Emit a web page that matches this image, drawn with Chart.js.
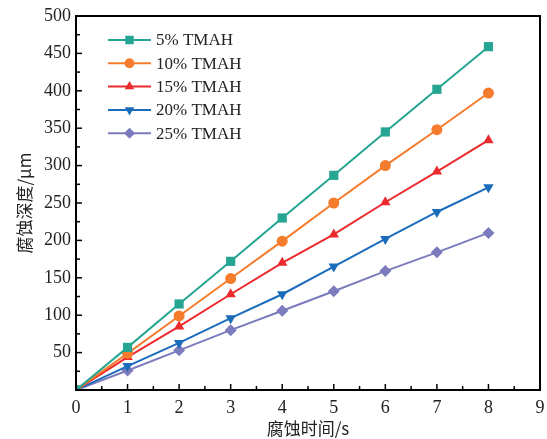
<!DOCTYPE html>
<html>
<head>
<meta charset="utf-8">
<script src="https://cdn.jsdelivr.net/npm/chart.js@4"></script>
<style>
  body { margin: 0; background: #fff; }
  #wrap { width: 547px; height: 439px; position: relative; }
</style>
</head>
<body>
<div id="wrap"><canvas id="etchChart"></canvas></div>
<script>
const times = [0, 1, 2, 3, 4, 5, 6, 7, 8];
const seriesNames = ['5% TMAH', '10% TMAH', '15% TMAH', '20% TMAH', '25% TMAH'];
const depth5 = [0, 57, 115, 172, 230, 287, 345, 402, 459];
const depth10 = [0, 49, 99, 149, 199, 250, 300, 348, 397];
const depth15 = [0, 44, 85, 128, 170, 208, 251, 292, 334];
const depth20 = [0, 32, 63, 96, 128, 165, 202, 238, 271];
const depth25 = [0, 26, 53, 80, 106, 132, 159, 184, 210];
const xTicks = [0, 1, 2, 3, 4, 5, 6, 7, 8, 9];
const yTicks = [50, 100, 150, 200, 250, 300, 350, 400, 450, 500];

const colors = ['#26a592', '#f47c2c', '#ec2a2e', '#1c6cbc', '#7b7bbd'];
const markers = ['rect', 'circle', 'triangle', 'triangle', 'rectRot'];
const rotations = [0, 0, 0, 180, 0];
const radii = [6.5, 5.5, 6, 6, 6];
const allDepths = [depth5, depth10, depth15, depth20, depth25];

const serif = '"Liberation Serif", "DejaVu Serif", serif';
const cjk = '"Noto Sans CJK SC", sans-serif';

const datasets = seriesNames.map((name, i) => ({
    label: name,
    data: times.map((t, j) => ({ x: t, y: allDepths[i][j] })),
    borderColor: colors[i],
    backgroundColor: colors[i],
    borderWidth: 2,
    pointStyle: markers[i],
    pointRotation: rotations[i],
    pointRadius: radii[i],
    pointBorderWidth: 0,
    tension: 0
}));

// box around plot + inward ticks
const framePlugin = {
    id: 'frame',
    afterDraw(chart) {
        const { ctx, chartArea: a, scales } = chart;
        ctx.save();
        ctx.strokeStyle = '#000';
        ctx.lineWidth = 2;
        ctx.strokeRect(a.left, a.top, a.right - a.left, a.bottom - a.top);
        ctx.lineWidth = 1.5;
        const xs = scales.x, ys = scales.y;
        for (let v = 0.5; v < 9; v += 0.5) {
            const px = xs.getPixelForValue(v);
            const len = (v % 1 === 0) ? 6 : 4;
            ctx.beginPath();
            ctx.moveTo(px, a.bottom);
            ctx.lineTo(px, a.bottom - len);
            ctx.stroke();
        }
        for (let v = 25; v < 500; v += 25) {
            const py = ys.getPixelForValue(v);
            const len = (v % 50 === 0) ? 6 : 4;
            ctx.beginPath();
            ctx.moveTo(a.left, py);
            ctx.lineTo(a.left + len, py);
            ctx.stroke();
        }
        ctx.restore();
    }
};

// legend drawn inside the plot area
const innerLegend = {
    id: 'innerLegend',
    afterDatasetsDraw(chart) {
        const { ctx } = chart;
        ctx.save();
        ctx.font = '17px ' + serif;
        ctx.textBaseline = 'middle';
        chart.data.datasets.forEach((ds, i) => {
            const y = 40 + i * 23.3;
            ctx.strokeStyle = ds.borderColor;
            ctx.lineWidth = 2;
            ctx.beginPath();
            ctx.moveTo(108, y);
            ctx.lineTo(151, y);
            ctx.stroke();
            ctx.fillStyle = ds.backgroundColor;
            Chart.helpers.drawPoint(ctx, {
                pointStyle: ds.pointStyle,
                rotation: ds.pointRotation,
                radius: ds.pointRadius - 0.5,
                borderWidth: 0
            }, 129.5, y);
            ctx.fillStyle = '#222';
            ctx.fillText(ds.label, 156, y + 1);
        });
        ctx.restore();
    }
};

new Chart(document.getElementById('etchChart'), {
    type: 'line',
    data: { datasets: datasets },
    options: {
        responsive: true,
        maintainAspectRatio: false,
        animation: false,
        layout: { padding: { left: 0, top: 16, right: 7, bottom: 0 } },
        plugins: {
            legend: { display: false },
            tooltip: { enabled: false }
        },
        scales: {
            x: {
                type: 'linear',
                min: 0,
                max: 9,
                afterBuildTicks: (s) => { s.ticks = xTicks.map(v => ({ value: v })); },
                afterFit: (s) => { s.height = 49; s.paddingRight = 0; s.paddingLeft = 0; },
                grid: { display: false, drawTicks: false },
                border: { display: false },
                ticks: {
                    color: '#222',
                    padding: 7,
                    font: { family: serif, size: 18 }
                },
                title: {
                    display: true,
                    text: '腐蚀时间/s',
                    color: '#222',
                    padding: { top: 1, bottom: 0 },
                    font: { family: cjk, size: 17 }
                }
            },
            y: {
                type: 'linear',
                min: 0,
                max: 500,
                afterBuildTicks: (s) => { s.ticks = yTicks.map(v => ({ value: v })); },
                afterFit: (s) => { s.width = 76; s.paddingTop = 0; s.paddingBottom = 0; },
                grid: { display: false, drawTicks: false },
                border: { display: false },
                ticks: {
                    color: '#222',
                    padding: 5,
                    font: { family: serif, size: 18 }
                },
                title: {
                    display: true,
                    text: '腐蚀深度/μm',
                    color: '#222',
                    padding: { top: 14, bottom: 0 },
                    font: { family: cjk, size: 17 }
                }
            }
        }
    },
    plugins: [framePlugin, innerLegend]
});
</script>
</body>
</html>
